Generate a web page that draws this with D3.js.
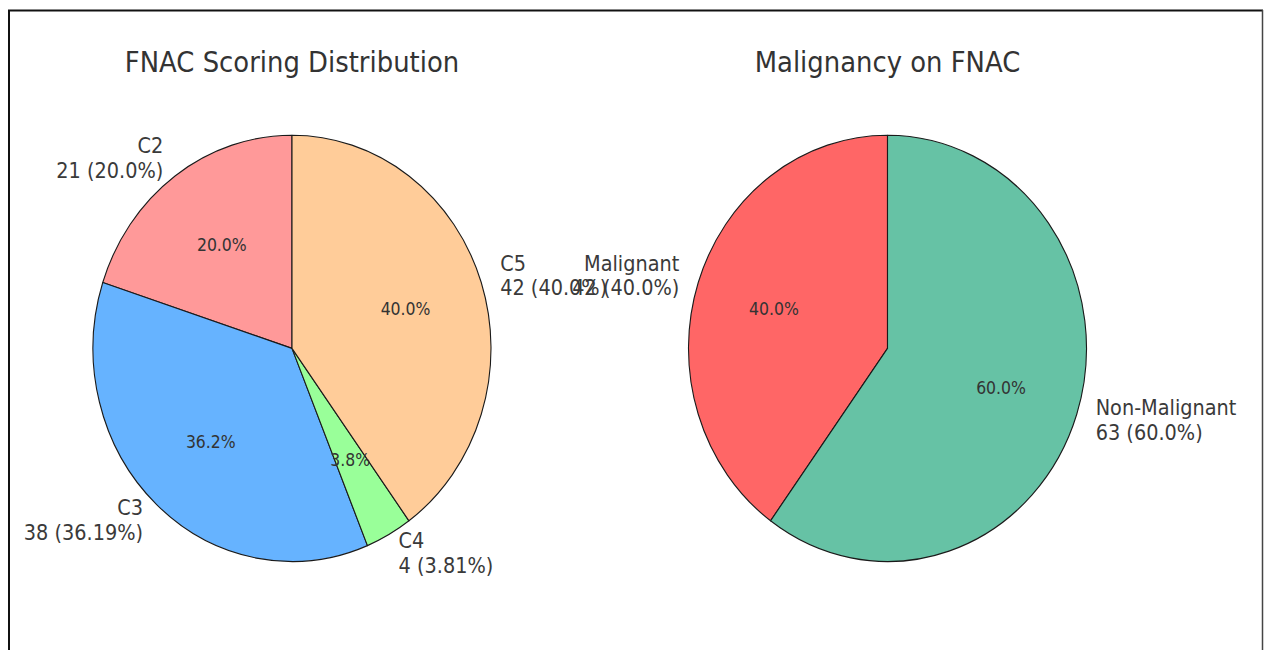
<!DOCTYPE html>
<html>
<head>
<meta charset="utf-8">
<script src="https://cdn.jsdelivr.net/npm/d3@7"></script>
<style>
  html, body { margin: 0; padding: 0; background: #fff; }
  svg { display: block; }
</style>
</head>
<body>
<svg id="chart" width="1264" height="650"></svg>
<script>
// ---- data ----
const scoreTitle = "FNAC Scoring Distribution";
const scoreCategories = ["C2", "C3", "C4", "C5"];
const scoreCounts = [21, 38, 4, 42];
const scoreColors = ["#ff9999", "#66b3ff", "#99ff99", "#ffcc99"];

const maligTitle = "Malignancy on FNAC";
const maligCategories = ["Malignant", "Non-Malignant"];
const maligCounts = [42, 63];
const maligColors = ["#ff6666", "#66c2a5"];

// ---- layout ----
const W = 1264, H = 650;
const SY = 1.071;           // vertical stretch of the original picture
const R = 199;
const CY = 325.3;
const FONT = "DejaVu Sans, Liberation Sans, sans-serif";

const svg = d3.select("#chart");

// frame
svg.append("line").attr("x1", 9).attr("x2", 9).attr("y1", 10).attr("y2", H + 5)
  .attr("stroke", "#111").attr("stroke-width", 2);
svg.append("line").attr("x1", 8).attr("x2", 1263).attr("y1", 10.5).attr("y2", 10.5)
  .attr("stroke", "#111").attr("stroke-width", 2);
svg.append("line").attr("x1", 1262.5).attr("x2", 1262.5).attr("y1", 10).attr("y2", H + 5)
  .attr("stroke", "#444").attr("stroke-width", 1.5);

const root = svg.append("g").attr("transform", `scale(1,${SY})`);

function pyRound2(v) {
  const r = Math.round(v * 100) / 100;
  return Number.isInteger(r) ? r.toFixed(1) : String(r);
}

function drawPie(cx, title, cats, counts, colors) {
  const total = d3.sum(counts);
  const color = d3.scaleOrdinal().domain(cats).range(colors);
  const rScale = d3.scaleLinear().domain([0, 1]).range([0, R]);
  const data = cats.map((c, i) => ({ cat: c, count: counts[i] }));
  const pie = d3.pie().value(d => d.count).sort(null).startAngle(0).endAngle(-2 * Math.PI);
  const arcs = pie(data);
  const arc = d3.arc().innerRadius(0).outerRadius(rScale(1));

  const g = root.append("g").attr("transform", `translate(${cx},${CY})`);

  g.selectAll("path.slice").data(arcs).enter().append("path")
    .attr("class", "slice")
    .attr("d", arc)
    .attr("fill", d => color(d.data.cat))
    .attr("stroke", "#1a1a1a")
    .attr("stroke-width", 1.1)
    .attr("stroke-linejoin", "round");

  // percentage labels
  g.selectAll("text.pct").data(arcs).enter().append("text")
    .attr("class", "pct")
    .attr("x", d => Math.sin((d.startAngle + d.endAngle) / 2) * rScale(0.6))
    .attr("y", d => -Math.cos((d.startAngle + d.endAngle) / 2) * rScale(0.6))
    .attr("dy", "0.36em")
    .attr("text-anchor", "middle")
    .attr("font-family", FONT)
    .attr("font-size", 15.7)
    .attr("fill", "#333")
    .text(d => d3.format(".1f")(d.data.count / total * 100) + "%");

  // outer labels
  const lab = g.selectAll("text.lab").data(arcs).enter().append("text")
    .attr("class", "lab")
    .attr("font-family", FONT)
    .attr("font-size", 19.3)
    .attr("fill", "#3a3a3a")
    .attr("text-anchor", d => Math.sin((d.startAngle + d.endAngle) / 2) > 0 ? "start" : "end")
    .attr("transform", d => {
      const a = (d.startAngle + d.endAngle) / 2;
      return `translate(${Math.sin(a) * rScale(1.1)},${-Math.cos(a) * rScale(1.1)})`;
    });
  lab.append("tspan").attr("x", 0).attr("dy", "-0.26em").text(d => d.data.cat);
  lab.append("tspan").attr("x", 0).attr("dy", "1.2em")
    .text(d => `${d.data.count} (${pyRound2(d.data.count / total * 100)}%)`);

  root.append("text")
    .attr("x", cx).attr("y", 67.3)
    .attr("text-anchor", "middle")
    .attr("font-family", FONT)
    .attr("font-size", 25.9)
    .attr("fill", "#333")
    .text(title);
}

drawPie(292, scoreTitle, scoreCategories, scoreCounts, scoreColors);
drawPie(887.5, maligTitle, maligCategories, maligCounts, maligColors);
</script>
</body>
</html>
